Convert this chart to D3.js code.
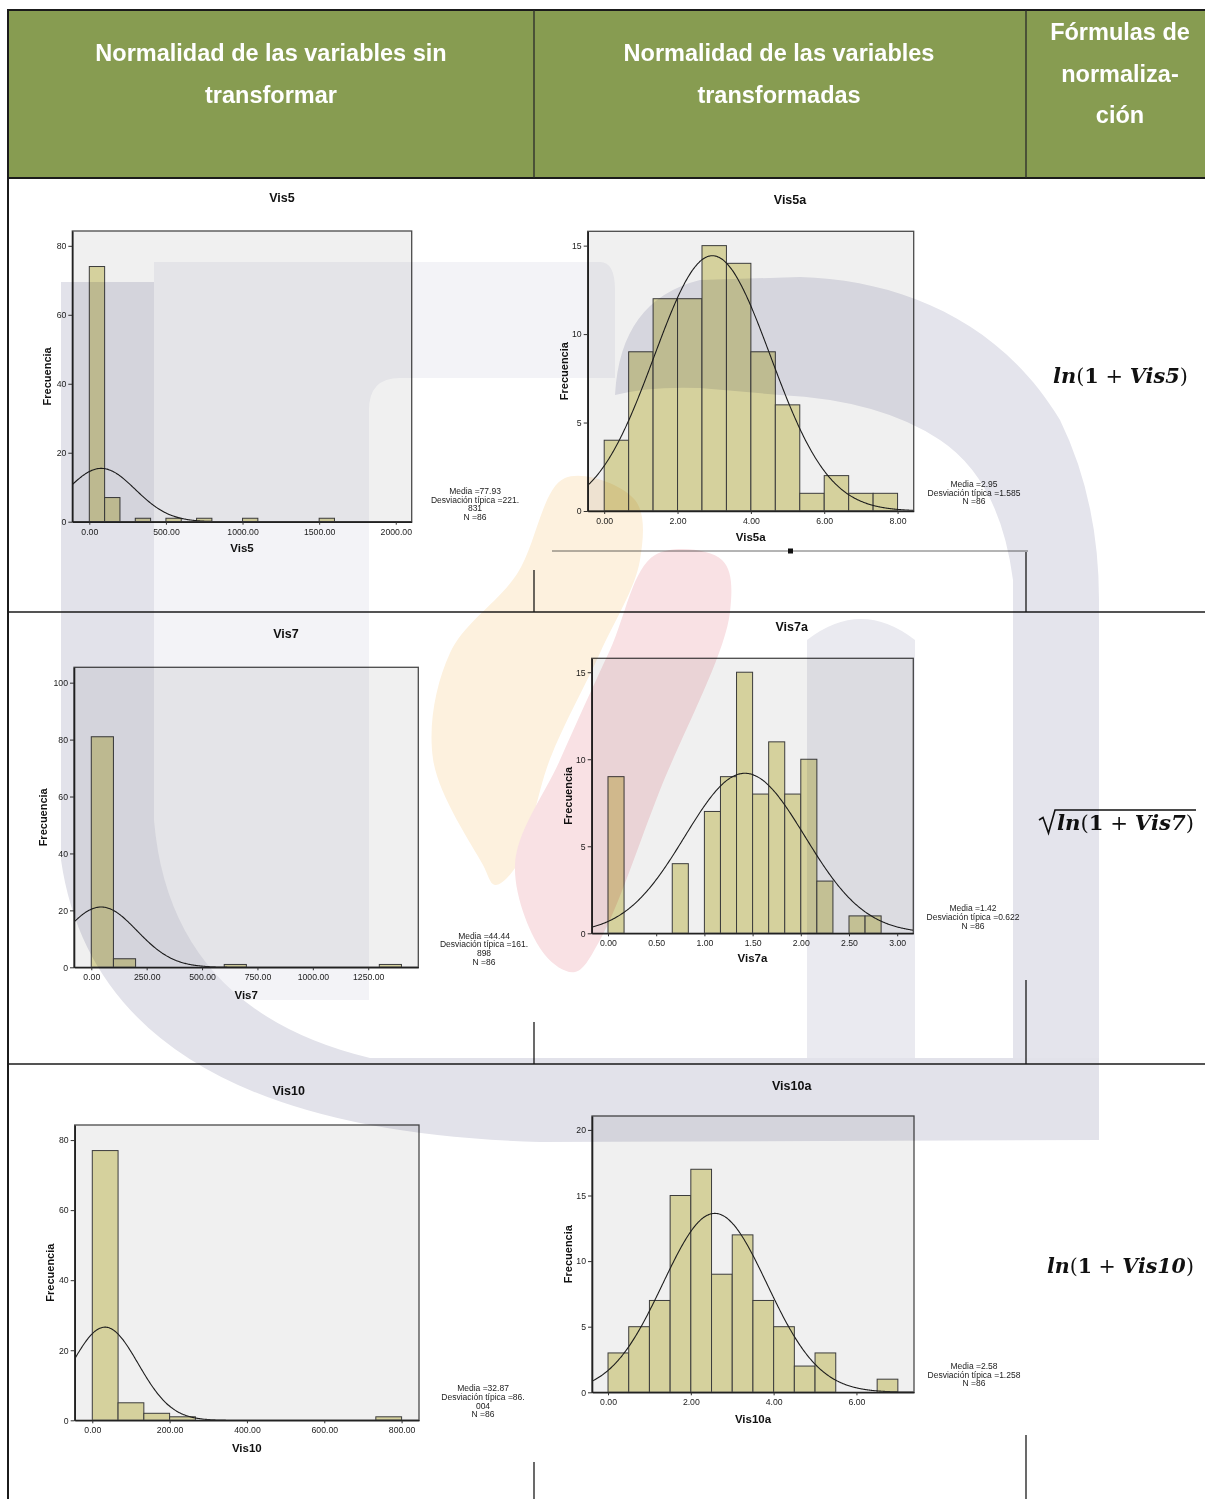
<!DOCTYPE html>
<html>
<head>
<meta charset="utf-8">
<script src="https://cdn.jsdelivr.net/npm/d3@7"></script>
<style>
  html, body { margin: 0; padding: 0; background: #ffffff; }
  svg { display: block; }
</style>
</head>
<body>
<svg id="page" width="1205" height="1499"></svg>
<script>
// ---------- table header ----------
const headerLeft = ["Normalidad de las variables sin", "transformar"];
const headerMiddle = ["Normalidad de las variables", "transformadas"];
const headerRight = ["Fórmulas de", "normaliza-", "ción"];

// ---------- histogram summaries ----------
const histNames = ["Vis5", "Vis5a", "Vis7", "Vis7a", "Vis10", "Vis10a"];
const histMeans = [77.93, 2.95, 44.44, 1.42, 32.87, 2.58];
const histSDs = [221.831, 1.585, 161.898, 0.622, 86.004, 1.258];
const histN = [86, 86, 86, 86, 86, 86];
const histBinWidths = [100, 2 / 3, 100, 1 / 6, 800 / 12, 0.5];

// ---------- bin counts (first bin starts at 0) ----------
const vis5Counts = [74, 7, 0, 1, 0, 1, 0, 1, 0, 0, 1, 0, 0, 0, 0, 1];
const vis5aCounts = [4, 9, 12, 12, 15, 14, 9, 6, 1, 2, 1, 1];
const vis7Counts = [81, 3, 0, 0, 0, 0, 1, 0, 0, 0, 0, 0, 0, 1];
const vis7aCounts = [9, 0, 0, 0, 4, 0, 7, 9, 15, 8, 11, 8, 10, 3, 0, 1, 1];
const vis10Counts = [77, 5, 2, 1, 0, 0, 0, 0, 0, 0, 0, 1];
const vis10aCounts = [3, 5, 7, 15, 17, 9, 12, 7, 5, 2, 3, 0, 0, 1];

// ---------- axis ticks ----------
const vis5XTicks = [0, 500, 1000, 1500, 2000];
const vis5YTicks = [0, 20, 40, 60, 80];
const vis5aXTicks = [0, 2, 4, 6, 8];
const vis5aYTicks = [0, 5, 10, 15];
const vis7XTicks = [0, 250, 500, 750, 1000, 1250];
const vis7YTicks = [0, 20, 40, 60, 80, 100];
const vis7aXTicks = [0, 0.5, 1, 1.5, 2, 2.5, 3];
const vis7aYTicks = [0, 5, 10, 15];
const vis10XTicks = [0, 200, 400, 600, 800];
const vis10YTicks = [0, 20, 40, 60, 80];
const vis10aXTicks = [0, 2, 4, 6];
const vis10aYTicks = [0, 5, 10, 15, 20];

// ---------- statistics boxes (as printed) ----------
const vis5Legend = ["Media =77.93", "Desviación típica =221.", "831", "N =86"];
const vis5aLegend = ["Media =2.95", "Desviación típica =1.585", "N =86"];
const vis7Legend = ["Media =44.44", "Desviación típica =161.", "898", "N =86"];
const vis7aLegend = ["Media =1.42", "Desviación típica =0.622", "N =86"];
const vis10Legend = ["Media =32.87", "Desviación típica =86.", "004", "N =86"];
const vis10aLegend = ["Media =2.58", "Desviación típica =1.258", "N =86"];

// ---------- normalising formulas (text pieces and their styles) ----------
const formula5 = [["ln", "bi"], ["(", "r"], ["1", "b"], [" + ", "r"], ["Vis5", "bi"], [")", "r"]];
const formula7 = [["ln", "bi"], ["(", "r"], ["1", "b"], [" + ", "r"], ["Vis7", "bi"], [")", "r"]];
const formula10 = [["ln", "bi"], ["(", "r"], ["1", "b"], [" + ", "r"], ["Vis10", "bi"], [")", "r"]];

const svg = d3.select("#page");
const SANS = "'Liberation Sans', Arial, Helvetica, sans-serif";
const MATH = "'DejaVu Serif', 'Liberation Serif', serif";

// ================= table frame =================
const GREEN = "#879c51";
svg.append("rect").attr("x", 9).attr("y", 11).attr("width", 1196).attr("height", 167).attr("fill", GREEN);

function hline(y, x1, x2, w, c) {
  svg.append("line").attr("x1", x1).attr("x2", x2).attr("y1", y).attr("y2", y)
    .attr("stroke", c || "#1b1b1b").attr("stroke-width", w || 1.5);
}
function vline(x, y1, y2, w, c) {
  svg.append("line").attr("x1", x).attr("x2", x).attr("y1", y1).attr("y2", y2)
    .attr("stroke", c || "#1b1b1b").attr("stroke-width", w || 1.5);
}
hline(10, 8, 1205, 2);
hline(178, 8, 1205, 2);
vline(8, 9, 1499, 2);
vline(534, 10, 178, 1.3, "#2a2a2a");
vline(1026, 10, 178, 1.3, "#2a2a2a");
hline(612, 8, 1205, 1.3);
hline(1064, 8, 1205, 1.3);
// cell rules that show between the pasted pictures
vline(534, 570, 612, 1.3);
vline(1026, 552, 612, 1.3);
vline(534, 1022, 1064, 1.3);
vline(1026, 980, 1064, 1.3);
vline(534, 1462, 1499, 1.3);
vline(1026, 1435, 1499, 1.3);
// separator under the first transformed chart
hline(551, 552, 1028, 1, "#6a6a6a");
svg.append("rect").attr("x", 788).attr("y", 548.5).attr("width", 5).attr("height", 5).attr("fill", "#111");

// header captions
function headerText(lines, cx, y0, dy) {
  const t = svg.append("text").attr("text-anchor", "middle")
    .attr("font-family", SANS).attr("font-weight", "bold").attr("font-size", 23.5)
    .attr("fill", "#ffffff");
  lines.forEach((s, i) => t.append("tspan").attr("x", cx).attr("y", y0 + i * dy).text(s));
}
headerText(headerLeft, 271, 61, 42);
headerText(headerMiddle, 779, 61, 42);
headerText(headerRight, 1120, 40, 41.5);

// ================= histograms =================
const panels = [
  { i: 0, counts: vis5Counts, xt: vis5XTicks, yt: vis5YTicks, leg: vis5Legend,
    l: 72.3, r: 411.7, t: 231, b: 521.7, xDom: [-111, 2104], yDom: [0, 84.3],
    title: [282, 197], ylab: 47, xlab: 548, stat: [475, 491] },
  { i: 1, counts: vis5aCounts, xt: vis5aXTicks, yt: vis5aYTicks, leg: vis5aLegend,
    l: 587.7, r: 913.7, t: 231.3, b: 511, xDom: [-0.45, 8.44], yDom: [0, 15.81],
    title: [790, 199], ylab: 564, xlab: 537, stat: [974, 484] },
  { i: 2, counts: vis7Counts, xt: vis7XTicks, yt: vis7YTicks, leg: vis7Legend,
    l: 74, r: 418.3, t: 667.3, b: 967.3, xDom: [-78, 1476], yDom: [0, 105.4],
    title: [286, 633], ylab: 43, xlab: 995, stat: [484, 935.7] },
  { i: 3, counts: vis7aCounts, xt: vis7aXTicks, yt: vis7aYTicks, leg: vis7aLegend,
    l: 591.7, r: 913.3, t: 658.3, b: 933.3, xDom: [-0.169, 3.167], yDom: [0, 15.8],
    title: [791.7, 626.7], ylab: 567.7, xlab: 958, stat: [973, 908.3] },
  { i: 4, counts: vis10Counts, xt: vis10XTicks, yt: vis10YTicks, leg: vis10Legend,
    l: 74.7, r: 419, t: 1125, b: 1420.3, xDom: [-45.5, 845], yDom: [0, 84.3],
    title: [288.7, 1090], ylab: 50, xlab: 1447.7, stat: [483, 1388.3] },
  { i: 5, counts: vis10aCounts, xt: vis10aXTicks, yt: vis10aYTicks, leg: vis10aLegend,
    l: 592, r: 914, t: 1116, b: 1392.3, xDom: [-0.387, 7.39], yDom: [0, 21.06],
    title: [791.7, 1085], ylab: 567.7, xlab: 1418.3, stat: [974, 1366] }
];

const defs = svg.append("defs");

panels.forEach(p => {
  const name = histNames[p.i], mean = histMeans[p.i], sd = histSDs[p.i];
  const n = histN[p.i], bw = histBinWidths[p.i];
  const g = svg.append("g").attr("class", "hist");
  const x = d3.scaleLinear().domain(p.xDom).range([p.l, p.r]);
  const y = d3.scaleLinear().domain(p.yDom).range([p.b, p.t]);

  const clipId = "clip" + p.i;
  defs.append("clipPath").attr("id", clipId).append("rect")
    .attr("x", p.l).attr("y", p.t).attr("width", p.r - p.l).attr("height", p.b - p.t);

  // plot area
  g.append("rect").attr("x", p.l).attr("y", p.t).attr("width", p.r - p.l).attr("height", p.b - p.t)
    .attr("fill", "#f0f0f0");

  // bars
  const bins = p.counts.map((c, k) => ({ x0: k * bw, x1: (k + 1) * bw, c })).filter(d => d.c > 0);
  g.append("g").selectAll("rect").data(bins).join("rect")
    .attr("x", d => x(d.x0)).attr("width", d => x(d.x1) - x(d.x0))
    .attr("y", d => y(d.c)).attr("height", d => y(0) - y(d.c))
    .attr("fill", "#d5d19d").attr("stroke", "#3c3c3c").attr("stroke-width", 1);

  // fitted normal curve scaled to counts
  const pdf = v => n * bw / (sd * Math.sqrt(2 * Math.PI)) * Math.exp(-0.5 * ((v - mean) / sd) ** 2);
  const xs = d3.range(0, 401).map(k => p.xDom[0] + (p.xDom[1] - p.xDom[0]) * k / 400);
  g.append("path").datum(xs)
    .attr("clip-path", `url(#${clipId})`)
    .attr("d", d3.line().x(v => x(v)).y(v => y(pdf(v))).curve(d3.curveMonotoneX))
    .attr("fill", "none").attr("stroke", "#1e1e1e").attr("stroke-width", 1.1);

  // frame
  g.append("rect").attr("x", p.l).attr("y", p.t).attr("width", p.r - p.l).attr("height", p.b - p.t)
    .attr("fill", "none").attr("stroke", "#4a4a4a").attr("stroke-width", 1.3);

  // axes
  const ax = g.append("g").attr("transform", `translate(0,${p.b})`)
    .call(d3.axisBottom(x).tickValues(p.xt).tickSize(3).tickSizeOuter(0).tickPadding(4)
      .tickFormat(d3.format(".2f")));
  const ay = g.append("g").attr("transform", `translate(${p.l},0)`)
    .call(d3.axisLeft(y).tickValues(p.yt).tickSize(4).tickSizeOuter(0).tickPadding(2)
      .tickFormat(d3.format("d")));
  [ax, ay].forEach(a => {
    a.select(".domain").attr("stroke", "#222").attr("stroke-width", 1.6);
    a.selectAll(".tick line").attr("stroke", "#333").attr("stroke-width", 1);
    a.selectAll(".tick text").attr("font-family", SANS).attr("font-size", 8.7).attr("fill", "#222");
  });

  // titles and labels
  g.append("text").attr("x", p.title[0]).attr("y", p.title[1] + 4.5).attr("text-anchor", "middle")
    .attr("font-family", SANS).attr("font-weight", "bold").attr("font-size", 12.5).attr("fill", "#111")
    .text(name);
  g.append("text").attr("x", (p.l + p.r) / 2).attr("y", p.xlab + 4.2).attr("text-anchor", "middle")
    .attr("font-family", SANS).attr("font-weight", "bold").attr("font-size", 11.5).attr("fill", "#111")
    .text(name);
  g.append("text").attr("transform", `translate(${p.ylab + 4},${(p.t + p.b) / 2}) rotate(-90)`)
    .attr("text-anchor", "middle")
    .attr("font-family", SANS).attr("font-weight", "bold").attr("font-size", 11).attr("fill", "#111")
    .text("Frecuencia");

  // statistics box
  const st = g.append("text").attr("text-anchor", "middle").attr("font-family", SANS)
    .attr("font-size", 8.5).attr("fill", "#222");
  p.leg.forEach((s, k) => st.append("tspan").attr("x", p.stat[0]).attr("y", p.stat[1] + 3 + k * 8.6).text(s));
});

// ================= formulas =================
function formula(parts, x0, x1, baseline) {
  const t = svg.append("text").attr("x", x0).attr("y", baseline)
    .attr("font-family", MATH).attr("font-size", 21).attr("fill", "#111")
    .style("white-space", "pre");
  parts.forEach(([s, st]) => {
    t.append("tspan").text(s)
      .attr("font-weight", st === "r" ? "normal" : "bold")
      .attr("font-style", st === "bi" ? "italic" : "normal");
  });
  // fit the run to its cell width
  const w = t.node().getComputedTextLength();
  t.attr("font-size", 21 * (x1 - x0) / w);
  return t;
}
formula(formula5, 1053, 1188, 383);
formula(formula7, 1057, 1194, 830);
formula(formula10, 1047, 1194, 1273);
// radical sign over the second formula
svg.append("path").attr("d", "M1039,820 L1043,817.5 L1048.5,833 L1055,810 L1196,810")
  .attr("fill", "none").attr("stroke", "#111").attr("stroke-width", 1.6).attr("stroke-linejoin", "miter");

// ================= faint institutional watermark =================
const wm = svg.append("g").style("mix-blend-mode", "multiply").attr("pointer-events", "none");
// pale body and top band
wm.append("path")
  .attr("d", "M154,262 L600,262 Q615,262 615,290 L615,378 L400,378 Q369,378 369,410 L369,1000 L154,1000 Z")
  .attr("fill", "#f3f3f7");
// darker outer leg sweeping into the bottom band
wm.append("path")
  .attr("d", "M61,282 L154,282 L154,820 Q170,1010 370,1058 L1099,1058 L1099,1140 L540,1142 Q100,1130 61,860 Z")
  .attr("fill", "#e2e2ea");
// right arch
wm.append("path")
  .attr("d", "M615,395 Q620,300 700,280 L800,277 C900,280 1000,320 1060,420 Q1099,500 1099,600 L1099,1058 L1013,1058 L1013,580 Q1000,480 940,440 Q880,400 780,395 L700,388 Q650,386 615,395 Z")
  .attr("fill", "#e4e4ec");
wm.append("path")
  .attr("d", "M807,1058 L807,640 Q861,598 915,640 L915,1058 Z")
  .attr("fill", "#eaeaf0");
// flame
wm.append("path")
  .attr("d", d3.line().curve(d3.curveCatmullRomClosed)([
    [565, 478], [635, 500], [640, 560], [600, 653], [550, 759], [517, 865], [495, 885],
    [483, 865], [433, 759], [450, 653], [517, 574]]))
  .attr("fill", "#fdf1de");
wm.append("path")
  .attr("d", d3.line().curve(d3.curveCatmullRomClosed)([
    [655, 555], [722, 560], [730, 612], [660, 790], [600, 940], [575, 972], [545, 955],
    [515, 865], [560, 760], [610, 650]]))
  .attr("fill", "#f9e1e4");
</script>
</body>
</html>
